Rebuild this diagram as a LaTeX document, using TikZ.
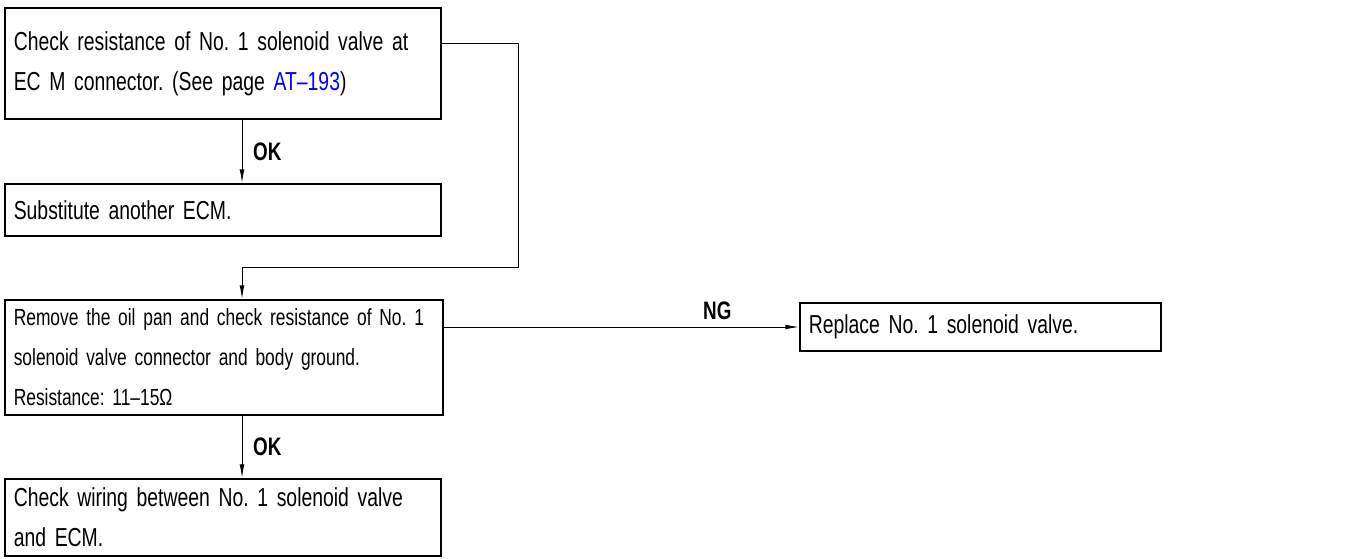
\documentclass[tikz,border=0pt]{standalone}
\usepackage{fontspec}
\setmainfont{Liberation Sans}[FakeStretch=0.745]
\usetikzlibrary{arrows.meta}
\frenchspacing
\newcommand{\boxfont}[1]{\fontsize{#1}{28.5}\selectfont\spaceskip=0.2em\relax}
\begin{document}
\begin{tikzpicture}[
      every node/.style={font=\boxfont{18.5}},
      stepbox/.style={rectangle, draw=black, line width=1.4pt, anchor=north west, align=left, inner xsep=0.22cm, inner ysep=0pt},
      smallbox/.style={stepbox, font=\boxfont{16.6}},
      flow/.style={line width=0.7pt, -{Latex[length=0.34cm, width=0.12cm]}},
      tag/.style={font=\bfseries\fontsize{18}{20}\selectfont}
  ]
    \useasboundingbox (0,0) rectangle (34.25,-13.975);
    \node[stepbox, text width=10.46cm, minimum height=2.775cm] (check) at (0.1,-0.175) {Check resistance of No. 1 solenoid valve at\\EC M connector. (See page \textcolor{blue}{AT--193})};
    \node[stepbox, text width=10.46cm, minimum height=1.3cm] (ecm) at (0.1,-4.575) {Substitute another ECM.};
    \node[smallbox, text width=10.51cm, minimum height=2.875cm] (oilpan) at (0.1,-7.475) {Remove the oil pan and check resistance of No. 1\\solenoid valve connector and body ground.\\Resistance: 11--15Ω};
    \node[stepbox, text width=10.46cm, minimum height=1.925cm] (wiring) at (0.1,-11.95) {Check wiring between No. 1 solenoid valve\\and ECM.};
    \node[stepbox, text width=8.585cm, minimum height=1.2cm] (replace) at (19.975,-7.55) {Replace No. 1 solenoid valve.};

    \coordinate (bend) at (12.95,-6.675);

    \draw[flow] (6.05,0 |- check.south) -- node[tag, right=0.15cm] {OK} (6.05,0 |- ecm.north);
    \draw[flow] (check.east |- 0,-1.075) -| (bend) -| (6.05,0 |- oilpan.north);
    \draw[flow] (oilpan.east |- 0,-8.175) -- node[tag, above=0.05cm, pos=0.77] {NG} (replace.west |- 0,-8.175);
    \draw[flow] (6.05,0 |- oilpan.south) -- node[tag, right=0.15cm] {OK} (6.05,0 |- wiring.north);
  \end{tikzpicture}
\end{document}
